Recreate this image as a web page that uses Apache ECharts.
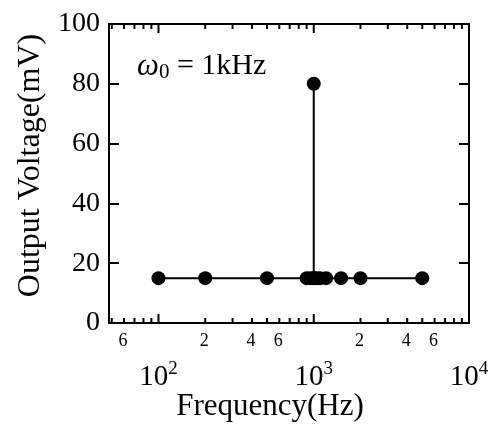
<!DOCTYPE html>
<html><head><meta charset="utf-8">
<script src="https://cdn.jsdelivr.net/npm/echarts@6/dist/echarts.min.js"></script>
<style>html,body{margin:0;padding:0;background:#fff}#c{width:501px;height:427px}</style>
</head><body><div id="c"></div>
<script>
const freqs = [100, 200, 500, 900, 950, 1000, 1050, 1100, 1200, 1500, 2000, 5000];
const volts = [15, 15, 15, 15, 15, 15, 15, 15, 15, 15, 15, 15];
const peakFreq = 1000;
const peakVolt = 80;
const majorTicks = [100, 1000, 10000];
const majorExp = ['2', '3', '4'];
const minorTicks = [50, 60, 70, 80, 90, 200, 300, 400, 500, 600, 700, 800, 900, 2000, 3000, 4000, 5000, 6000, 7000, 8000, 9000];
const minorLabelVals = [60, 200, 400, 600, 2000, 4000, 6000];
const minorLabelText = ['6', '2', '4', '6', '2', '4', '6'];

const FONT = '"Liberation Serif", "Times New Roman", serif';
const chart = echarts.init(document.getElementById('c'));

function tickItem(params, api) {
  const v = api.value(0);
  const major = api.value(1) === 1;
  const len = major ? 9 : 5;
  const b = api.coord([v, 0]);
  const t = api.coord([v, 100]);
  return { type: 'group', children: [
    { type: 'line', shape: { x1: b[0], y1: b[1], x2: b[0], y2: b[1] - len }, style: { stroke: '#000', lineWidth: 2 } },
    { type: 'line', shape: { x1: t[0], y1: t[1], x2: t[0], y2: t[1] + len }, style: { stroke: '#000', lineWidth: 2 } }
  ]};
}
const tickData = majorTicks.map(v => [v, 1]).concat(minorTicks.map(v => [v, 0]));

chart.setOption({
  animation: false,
  grid: { left: 109, right: 32, top: 24, bottom: 101 },
  xAxis: [
    { type: 'log', logBase: 10, min: 48, max: 10000, position: 'bottom',
      axisLine: { lineStyle: { color: '#000', width: 2 } },
      axisTick: { show: false }, axisLabel: { show: false }, splitLine: { show: false },
      name: 'Frequency(Hz)', nameLocation: 'middle', nameGap: 68,
      nameTextStyle: { fontFamily: FONT, fontSize: 31, color: '#000', padding: [0, 38, 0, 0] } },
    { type: 'log', logBase: 10, min: 48, max: 10000, position: 'top',
      axisLine: { onZero: false, lineStyle: { color: '#000', width: 2 } },
      axisTick: { show: false }, axisLabel: { show: false }, splitLine: { show: false } }
  ],
  yAxis: [
    { type: 'value', min: 0, max: 100, interval: 20, position: 'left',
      axisLine: { show: true, lineStyle: { color: '#000', width: 2 } },
      axisTick: { inside: true, length: 10, lineStyle: { color: '#000', width: 2 } },
      axisLabel: { fontFamily: FONT, fontSize: 28, color: '#000', margin: 9 },
      splitLine: { show: false },
      name: 'Output Voltage(mV)', nameLocation: 'middle', nameGap: 62,
      nameTextStyle: { fontFamily: FONT, fontSize: 32, color: '#000', padding: [0, 0, 0, 16] } },
    { type: 'value', min: 0, max: 100, interval: 20, position: 'right',
      axisLine: { show: true, lineStyle: { color: '#000', width: 2 } },
      axisTick: { inside: true, length: 10, lineStyle: { color: '#000', width: 2 } },
      axisLabel: { show: false }, splitLine: { show: false } }
  ],
  title: {
    left: 132, top: 45,
    text: '{w|ω}{s|0}{n| = 1kHz}',
    textStyle: { fontWeight: 'normal', rich: {
      w: { fontFamily: FONT, fontSize: 31, fontStyle: 'italic', fontWeight: 'normal', color: '#000' },
      s: { fontFamily: FONT, fontSize: 21, fontWeight: 'normal', color: '#000', verticalAlign: 'bottom', padding: [12, 0, 0, 0] },
      n: { fontFamily: FONT, fontSize: 30, fontWeight: 'normal', color: '#000' }
    } }
  },
  series: [
    { type: 'custom', renderItem: tickItem, data: tickData, clip: false, silent: true, z: 5 },
    { type: 'custom', clip: false, silent: true,
      data: minorLabelVals.map((v, i) => [v, i]),
      renderItem: (params, api) => {
        const p = api.coord([api.value(0), 0]);
        return { type: 'text', x: p[0] - 1, y: p[1] + 9,
          style: { text: minorLabelText[api.value(1)], fontFamily: FONT, fontSize: 18, fill: '#000', align: 'center', verticalAlign: 'top' } };
      } },
    { type: 'custom', clip: false, silent: true,
      data: majorTicks.map((v, i) => [v, i]),
      renderItem: (params, api) => {
        const p = api.coord([api.value(0), 0]);
        return { type: 'text', x: p[0], y: p[1] + 37,
          style: { text: '{a|10}{b|' + majorExp[api.value(1)] + '}', align: 'center', verticalAlign: 'top',
            rich: { a: { fontFamily: FONT, fontSize: 29, fill: '#000', color: '#000' },
                    b: { fontFamily: FONT, fontSize: 19, fill: '#000', color: '#000', verticalAlign: 'top', padding: [0, 0, 16, 0] } } } };
      } },
    { type: 'line', data: [[peakFreq, volts[freqs.indexOf(peakFreq)]], [peakFreq, peakVolt]],
      symbol: 'circle', symbolSize: 14, showSymbol: true, itemStyle: { color: '#000' },
      lineStyle: { color: '#000', width: 2 }, z: 3 },
    { type: 'line', data: freqs.map((f, i) => [f, volts[i]]),
      symbol: 'circle', symbolSize: 14, itemStyle: { color: '#000' },
      lineStyle: { color: '#000', width: 2 }, z: 4 }
  ]
});
</script></body></html>
